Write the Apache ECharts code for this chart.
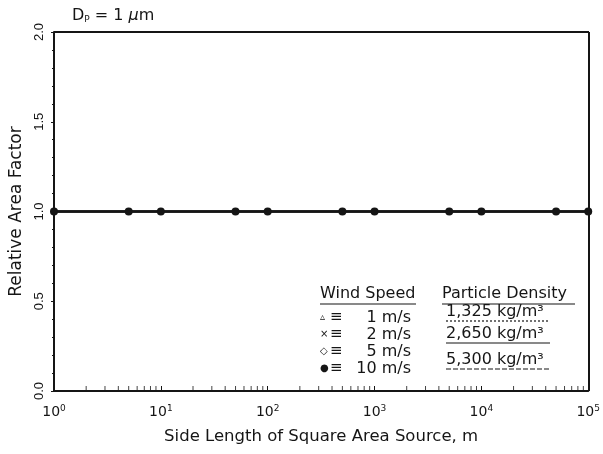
<!DOCTYPE html>
<html>
<head>
<meta charset="utf-8">
<script src="https://cdn.jsdelivr.net/npm/echarts@6/dist/echarts.min.js"></script>
<style>html,body{margin:0;padding:0;background:#fff}#c{width:603px;height:454px}</style>
</head>
<body>
<div id="c"></div>
<script>
const xValues = [1, 5, 10, 50, 100, 500, 1000, 5000, 10000, 50000, 100000];
const ws1 = [1.0, 1.0, 1.0, 1.0, 1.0, 1.0, 1.0, 1.0, 1.0, 1.0, 1.0];
const ws2 = [1.0, 1.0, 1.0, 1.0, 1.0, 1.0, 1.0, 1.0, 1.0, 1.0, 1.0];
const ws5 = [1.0, 1.0, 1.0, 1.0, 1.0, 1.0, 1.0, 1.0, 1.0, 1.0, 1.0];
const ws10 = [1.0, 1.0, 1.0, 1.0, 1.0, 1.0, 1.0, 1.0, 1.0, 1.0, 1.0];
const xTickLabels = {1: '0', 10: '1', 100: '2', 1000: '3', 10000: '4', 100000: '5'};
const yTickLabels = ['0.0', '0.5', '1.0', '1.5', '2.0'];
const minorTickValues = [2,3,4,5,6,7,8,9,20,30,40,50,60,70,80,90,200,300,400,500,600,700,800,900,
  2000,3000,4000,5000,6000,7000,8000,9000,20000,30000,40000,50000,60000,70000,80000,90000];
const windLabels = ['1 m/s', '2 m/s', '5 m/s', '10 m/s'];
const densityLabels = ['1,325 kg/m³', '2,650 kg/m³', '5,300 kg/m³'];

const INK = '#151515';
const FONT = '"DejaVu Sans", "Liberation Sans", sans-serif';

function pairs(ys) { return xValues.map((x, i) => [x, ys[i]]); }

const chart = echarts.init(document.getElementById('c'), null, {renderer: 'canvas'});

const legendTexts = [];
const rowY = [319, 336, 353, 370];
const symChars = ['▵', '×', '◇', '●'];
rowY.forEach((y, i) => {
  legendTexts.push({type: 'text', left: 320, top: y - 7, style: {text: symChars[i], font: '10px "DejaVu Sans"', fill: INK}});
  legendTexts.push({type: 'text', left: 330, top: y - 9, style: {text: '≡', font: '15px "DejaVu Sans"', fill: INK}});
  legendTexts.push({type: 'text', right: 603 - 411, top: y - 9, style: {text: windLabels[i], font: '16px ' + FONT, fill: INK}});
});
const densY = [313, 335, 361];
const densDash = [[2, 2], null, [5, 2]];
densY.forEach((y, i) => {
  legendTexts.push({type: 'text', left: 446, top: y - 9, style: {text: densityLabels[i], font: '16px ' + FONT, fill: INK}});
  legendTexts.push({type: 'line', shape: {x1: 446, y1: y + 8, x2: 550, y2: y + 8}, style: {stroke: INK, lineWidth: 1.2, lineDash: densDash[i]}});
});
legendTexts.push({type: 'text', left: 320, top: 286, style: {text: 'Wind Speed', font: '16px ' + FONT, fill: INK}});
legendTexts.push({type: 'line', shape: {x1: 320, y1: 304, x2: 416, y2: 304}, style: {stroke: INK, lineWidth: 1.2}});
legendTexts.push({type: 'text', left: 442, top: 286, style: {text: 'Particle Density', font: '16px ' + FONT, fill: INK}});
legendTexts.push({type: 'line', shape: {x1: 442, y1: 304, x2: 575, y2: 304}, style: {stroke: INK, lineWidth: 1.2}});

chart.setOption({
  backgroundColor: '#fff',
  animation: false,
  grid: {left: 54, right: 14, top: 32, bottom: 63},
  xAxis: {
    type: 'log', min: 1, max: 100000, logBase: 10,
    name: 'Side Length of Square Area Source, m',
    nameLocation: 'middle', nameGap: 37,
    nameTextStyle: {fontFamily: FONT, fontSize: 16.5, color: INK},
    axisLine: {lineStyle: {color: INK, width: 2}},
    axisTick: {inside: true, length: 5, lineStyle: {color: INK}},
    splitLine: {show: false},
    axisLabel: {
      margin: 13, color: INK, fontFamily: FONT, fontSize: 14,
      formatter: v => '10{s|' + (xTickLabels[Math.round(v)] ?? '') + '}',
      rich: {s: {fontSize: 9, verticalAlign: 'top', padding: [0, 0, 8, 0], fontFamily: FONT, color: INK}}
    }
  },
  yAxis: [{
    type: 'value', min: 0, max: 2, interval: 0.5,
    name: 'Relative Area Factor', nameLocation: 'middle', nameGap: 22,
    nameTextStyle: {fontFamily: FONT, fontSize: 17, color: INK},
    axisLine: {show: true, lineStyle: {color: INK, width: 2}},
    axisTick: {show: true, length: 3, lineStyle: {color: INK}},
    minorTick: {show: true, splitNumber: 5, length: 2, lineStyle: {color: INK}},
    splitLine: {show: false},
    axisLabel: {
      rotate: 90, margin: 8, color: INK, fontFamily: '"Liberation Sans", Arial, sans-serif', fontSize: 13,
      formatter: v => yTickLabels[Math.round(v * 2)]
    }
  }],
  graphic: [
    {type: 'line', shape: {x1: 54, y1: 32, x2: 589, y2: 32}, style: {stroke: INK, lineWidth: 2}},
    {type: 'line', shape: {x1: 589, y1: 32, x2: 589, y2: 391}, style: {stroke: INK, lineWidth: 2}},
    {type: 'text', left: 72, top: 8, style: {
      text: 'D{p|P} = 1 {i|μ}m', font: '16px ' + FONT, fill: INK,
      rich: {p: {fontSize: 9, verticalAlign: 'bottom', padding: [6, 0, 0, 0], fill: INK, fontFamily: FONT},
             i: {fontStyle: 'italic', fontSize: 16, fill: INK, fontFamily: FONT}}
    }},
    ...legendTexts
  ],
  series: [
    {type: 'scatter', data: minorTickValues.map(v => [v, 0]), symbol: 'rect', symbolSize: [1, 4], symbolOffset: [0, -3],
     itemStyle: {color: INK}, silent: true, z: 1},
    {type: 'line', data: pairs(ws1), symbol: 'triangle', symbolSize: 4, showSymbol: true, clip: false,
     lineStyle: {color: INK, width: 2}, itemStyle: {color: INK}, z: 2},
    {type: 'line', data: pairs(ws2), symbol: 'rect', symbolSize: 4, showSymbol: true, clip: false,
     lineStyle: {color: INK, width: 2}, itemStyle: {color: INK}, z: 3},
    {type: 'line', data: pairs(ws5), symbol: 'diamond', symbolSize: 5, showSymbol: true, clip: false,
     lineStyle: {color: INK, width: 2}, itemStyle: {color: INK}, z: 4},
    {type: 'line', data: pairs(ws10), symbol: 'circle', symbolSize: 8, showSymbol: true, clip: false,
     lineStyle: {color: INK, width: 2}, itemStyle: {color: INK}, z: 5}
  ]
});
</script>
</body>
</html>
